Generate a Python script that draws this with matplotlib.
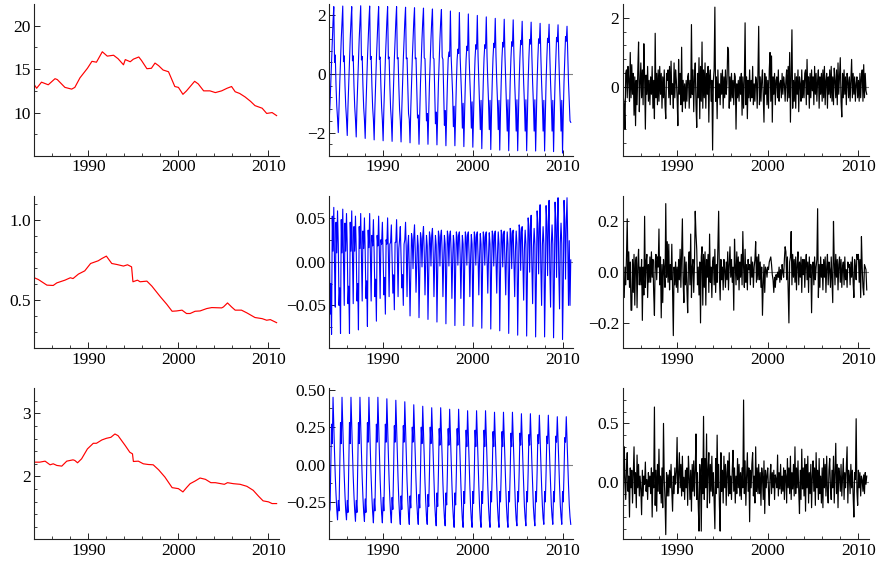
import numpy as np
import matplotlib.pyplot as plt
from matplotlib.ticker import FixedLocator, FuncFormatter

plt.rcParams['font.family'] = ['Liberation Serif', 'DejaVu Serif']

# ---- trend readings (decimal year, value) ----
trend1_t = [1984.0, 1984.26, 1984.8, 1985.55, 1986.3, 1986.55, 1987.4, 1988.15, 1988.5, 1989.07,
            1989.9, 1990.4, 1990.9, 1991.55, 1992.1, 1992.8, 1993.3, 1993.9, 1994.1, 1994.65,
            1995.0, 1995.6, 1995.9, 1996.5, 1997.0, 1997.4, 1997.8, 1998.3, 1998.9, 1999.6,
            2000.0, 2000.5, 2000.9, 2001.8, 2002.2, 2002.8, 2003.5, 2004.1, 2004.8, 2005.4,
            2005.9, 2006.3, 2006.8, 2007.4, 2008.0, 2008.5, 2009.3, 2009.8, 2010.4, 2010.9]
trend1_v = [13.2, 12.8, 13.5, 13.2, 13.9, 13.8, 12.9, 12.7, 12.9, 14.0,
            15.1, 15.9, 15.8, 17.0, 16.5, 16.6, 16.2, 15.5, 16.1, 15.85,
            16.15, 16.4, 16.0, 15.05, 15.1, 15.7, 15.4, 14.9, 14.7, 13.0,
            12.9, 12.1, 12.5, 13.6, 13.3, 12.5, 12.5, 12.3, 12.5, 12.8,
            13.0, 12.4, 12.2, 11.8, 11.3, 10.8, 10.5, 9.9, 10.0, 9.65]

trend2_t = [1984.0, 1984.45, 1985.4, 1986.1, 1986.5, 1987.4, 1988.0, 1988.3, 1988.9, 1989.6,
            1990.25, 1991.1, 1991.5, 1992.0, 1992.6, 1993.15, 1993.9, 1994.35, 1994.8, 1994.95,
            1995.45, 1995.75, 1996.5, 1997.05, 1998.0, 1998.7, 1999.3, 1999.8, 2000.4, 2000.9,
            2001.3, 2001.85, 2002.4, 2003.15, 2003.7, 2004.8, 2005.0, 2005.45, 2005.9, 2006.3,
            2007.0, 2007.6, 2008.5, 2009.3, 2009.8, 2010.2, 2010.9]
trend2_v = [0.640, 0.629, 0.594, 0.592, 0.608, 0.625, 0.640, 0.635, 0.663, 0.683,
            0.729, 0.746, 0.760, 0.775, 0.729, 0.723, 0.713, 0.721, 0.708, 0.615,
            0.625, 0.615, 0.619, 0.588, 0.521, 0.475, 0.431, 0.433, 0.438, 0.417,
            0.417, 0.431, 0.433, 0.448, 0.454, 0.452, 0.458, 0.483, 0.458, 0.438,
            0.438, 0.421, 0.392, 0.385, 0.375, 0.379, 0.360]

trend3_t = [1984.0, 1984.6, 1985.2, 1985.75, 1986.1, 1986.5, 1987.05, 1987.6, 1988.3, 1988.5,
            1988.8, 1989.25, 1989.9, 1990.55, 1990.9, 1991.5, 1992.0, 1992.5, 1992.95, 1993.3,
            1994.1, 1994.6, 1994.9, 1995.0, 1995.55, 1996.1, 1996.65, 1997.2, 1997.8, 1998.5,
            1999.3, 2000.0, 2000.5, 2000.9, 2001.3, 2001.85, 2002.4, 2003.0, 2003.6, 2004.1,
            2005.1, 2005.45, 2006.1, 2006.85, 2007.6, 2008.3, 2008.9, 2009.4, 2010.0, 2010.4, 2010.9]
trend3_v = [2.226, 2.226, 2.242, 2.184, 2.200, 2.174, 2.163, 2.242, 2.263, 2.253,
            2.216, 2.279, 2.437, 2.526, 2.526, 2.579, 2.605, 2.621, 2.674, 2.647,
            2.489, 2.384, 2.358, 2.237, 2.242, 2.200, 2.189, 2.184, 2.105, 1.989,
            1.821, 1.805, 1.753, 1.821, 1.884, 1.926, 1.974, 1.953, 1.900, 1.900,
            1.874, 1.900, 1.884, 1.874, 1.842, 1.779, 1.684, 1.611, 1.595, 1.568, 1.568]

# ---- seasonal components, one row per year 1984..2010 (Jan..Dec) ----
seas1 = [
    [-1.50, -1.00, -0.30, 0.50, 1.20, 1.80, 2.30, 0.40, 0.65, -0.40, -1.10, -1.50],
    [-2.00, -1.10, -0.30, 0.50, 1.20, 1.80, 2.32, 0.42, 0.62, -0.40, -1.10, -1.52],
    [-2.10, -1.10, -0.30, 0.50, 1.20, 1.80, 2.30, 0.45, 0.62, -0.40, -1.12, -1.55],
    [-2.15, -1.10, -0.30, 0.50, 1.20, 1.80, 2.33, 0.48, 0.60, -0.40, -1.15, -1.55],
    [-2.20, -1.15, -0.30, 0.50, 1.20, 1.80, 2.32, 0.50, 0.60, -0.40, -1.15, -1.55],
    [-2.25, -1.15, -0.30, 0.50, 1.20, 1.80, 2.30, 0.50, 0.58, -0.40, -1.15, -1.58],
    [-2.28, -1.20, -0.30, 0.50, 1.20, 1.80, 2.30, 0.52, 0.58, -0.40, -1.18, -1.58],
    [-2.30, -1.20, -0.30, 0.50, 1.20, 1.80, 2.30, 0.52, 0.56, -0.40, -1.20, -1.60],
    [-2.32, -1.20, -0.30, 0.50, 1.20, 1.80, 2.28, 0.52, 0.55, -0.45, -1.35, -1.55],
    [-2.35, -1.20, -0.30, 0.50, 1.20, 1.80, 2.26, 0.52, 0.55, -0.50, -1.50, -1.40],
    [-2.40, -1.30, -0.30, 0.50, 1.20, 1.80, 2.25, 0.55, 0.52, -0.50, -1.60, -1.35],
    [-2.40, -1.30, -0.30, 0.50, 1.20, 1.80, 2.22, 0.55, 0.52, -0.55, -1.70, -1.30],
    [-2.42, -1.30, -0.30, 0.50, 1.20, 1.80, 2.20, 0.58, 0.50, -0.55, -1.75, -1.25],
    [-2.45, -1.30, -0.30, 0.50, 0.75, 0.60, 2.15, 0.60, -0.10, -0.70, -1.80, -1.10],
    [-2.45, -1.30, -0.30, 0.50, 0.85, 0.70, 2.10, 0.60, -0.15, -0.80, -1.85, -1.00],
    [-2.48, -1.30, -0.30, 0.50, 0.95, 0.80, 2.05, 0.60, -0.20, -0.85, -1.85, -0.95],
    [-2.50, -1.30, -0.25, 0.55, 1.00, 0.85, 2.00, 0.60, -0.20, -0.90, -1.90, -0.90],
    [-2.55, -1.30, -0.25, 0.55, 1.00, 0.88, 1.95, 0.60, -0.25, -0.95, -1.90, -0.90],
    [-2.58, -1.30, -0.25, 0.55, 1.05, 0.90, 1.90, 0.60, -0.25, -0.95, -1.90, -0.90],
    [-2.60, -1.30, -0.25, 0.55, 1.08, 0.92, 1.87, 0.60, -0.25, -1.00, -1.95, -0.88],
    [-2.62, -1.35, -0.25, 0.55, 1.10, 0.95, 1.85, 0.60, -0.30, -1.00, -1.95, -0.88],
    [-2.62, -1.35, -0.25, 0.55, 1.15, 1.00, 1.80, 0.60, -0.30, -1.00, -1.95, -0.88],
    [-2.62, -1.35, -0.25, 0.55, 1.18, 1.02, 1.77, 0.60, -0.30, -1.00, -1.95, -0.88],
    [-2.63, -1.35, -0.25, 0.55, 1.20, 1.05, 1.73, 0.60, -0.30, -1.00, -1.95, -0.90],
    [-2.63, -1.35, -0.25, 0.55, 1.22, 1.08, 1.70, 0.60, -0.30, -1.00, -1.95, -0.90],
    [-2.65, -1.35, -0.25, 0.55, 1.25, 1.10, 1.68, 0.60, -0.30, -1.00, -1.95, -0.90],
    [-2.70, -1.35, -0.25, 0.55, 1.28, 1.12, 1.63, 0.60, -0.30, -1.00, -1.60, -1.65],
]

seas2 = [
    [0.036, -0.060, -0.025, -0.083, 0.052, 0.012, 0.062, -0.005, -0.052, 0.045, 0.010, 0.058],
    [0.020, -0.050, -0.030, -0.082, 0.048, 0.010, 0.060, 0.000, -0.050, 0.044, 0.012, 0.055],
    [0.018, -0.048, -0.028, -0.082, 0.045, 0.012, 0.058, 0.002, -0.048, 0.040, 0.012, 0.052],
    [0.015, -0.045, -0.025, -0.078, 0.040, 0.015, 0.055, 0.005, -0.045, 0.035, 0.015, 0.050],
    [0.012, -0.042, -0.022, -0.074, 0.036, 0.016, 0.055, 0.008, -0.045, 0.030, 0.018, 0.048],
    [0.010, -0.040, -0.020, -0.068, 0.030, 0.018, 0.052, 0.010, -0.042, 0.025, 0.020, 0.045],
    [0.008, -0.038, -0.018, -0.060, 0.025, 0.020, 0.050, 0.010, -0.040, 0.020, 0.022, 0.042],
    [0.005, -0.036, -0.015, -0.055, 0.022, 0.022, 0.048, 0.010, -0.040, 0.015, 0.025, 0.040],
    [0.005, -0.030, -0.015, -0.050, 0.020, 0.025, 0.045, 0.012, -0.040, 0.018, 0.030, -0.010],
    [-0.062, -0.012, 0.032, 0.025, -0.008, 0.028, 0.042, 0.010, -0.035, 0.000, 0.030, 0.018],
    [-0.064, -0.012, 0.033, 0.026, -0.006, 0.029, 0.040, 0.010, -0.038, 0.000, 0.030, 0.018],
    [-0.066, -0.012, 0.034, 0.027, -0.005, 0.030, 0.038, 0.010, -0.040, 0.000, 0.030, 0.019],
    [-0.069, -0.012, 0.035, 0.028, -0.005, 0.030, 0.036, 0.010, -0.040, 0.000, 0.030, 0.020],
    [-0.071, -0.012, 0.035, 0.028, -0.005, 0.030, 0.035, 0.010, -0.042, 0.000, 0.030, 0.020],
    [-0.073, -0.010, 0.034, 0.028, -0.004, 0.030, 0.034, 0.008, -0.042, 0.000, 0.030, 0.020],
    [-0.073, -0.010, 0.034, 0.028, -0.004, 0.030, 0.034, 0.008, -0.040, 0.002, 0.031, 0.020],
    [-0.074, -0.010, 0.034, 0.028, -0.004, 0.030, 0.034, 0.006, -0.038, 0.004, 0.032, 0.020],
    [-0.076, -0.010, 0.034, 0.028, -0.004, 0.030, 0.034, 0.004, -0.036, 0.006, 0.033, 0.020],
    [-0.077, -0.012, 0.035, 0.030, -0.005, 0.030, 0.035, 0.002, -0.036, 0.008, 0.034, 0.020],
    [-0.079, -0.014, 0.036, 0.031, -0.006, 0.031, 0.035, 0.000, -0.038, 0.010, 0.034, 0.020],
    [-0.082, -0.016, 0.038, 0.033, -0.008, 0.032, 0.036, -0.002, -0.040, 0.012, 0.035, 0.020],
    [-0.084, -0.018, 0.042, 0.036, -0.010, 0.034, 0.040, -0.004, -0.044, 0.014, 0.036, 0.020],
    [-0.085, -0.020, 0.050, 0.040, -0.012, 0.036, 0.053, -0.006, -0.048, 0.016, 0.038, 0.020],
    [-0.086, -0.022, 0.058, 0.044, -0.014, 0.038, 0.065, -0.008, -0.050, 0.018, 0.040, 0.020],
    [-0.086, -0.024, 0.064, 0.046, -0.016, 0.040, 0.070, -0.010, -0.052, 0.020, 0.042, 0.020],
    [-0.087, -0.026, 0.068, 0.048, -0.018, 0.042, 0.073, -0.012, -0.054, 0.022, 0.044, 0.020],
    [-0.089, -0.028, 0.070, 0.048, -0.020, 0.044, 0.073, 0.020, -0.050, 0.024, -0.050, 0.002],
]

seas3 = [
    [-0.32, -0.30, -0.02, 0.27, 0.14, 0.45, 0.26, 0.08, -0.08, -0.20, -0.30, -0.37],
    [-0.24, -0.31, -0.02, 0.28, 0.14, 0.45, 0.26, 0.08, -0.08, -0.21, -0.31, -0.37],
    [-0.24, -0.32, -0.02, 0.28, 0.14, 0.45, 0.26, 0.08, -0.08, -0.21, -0.31, -0.38],
    [-0.24, -0.32, -0.03, 0.28, 0.14, 0.45, 0.26, 0.08, -0.09, -0.22, -0.32, -0.38],
    [-0.23, -0.32, -0.03, 0.28, 0.15, 0.45, 0.26, 0.07, -0.09, -0.22, -0.32, -0.39],
    [-0.23, -0.31, -0.03, 0.27, 0.15, 0.45, 0.26, 0.07, -0.10, -0.23, -0.33, -0.39],
    [-0.22, -0.31, -0.04, 0.27, 0.15, 0.44, 0.25, 0.07, -0.10, -0.23, -0.33, -0.39],
    [-0.22, -0.30, -0.04, 0.26, 0.15, 0.43, 0.25, 0.06, -0.10, -0.24, -0.34, -0.40],
    [-0.21, -0.30, -0.04, 0.26, 0.15, 0.42, 0.24, 0.06, -0.11, -0.24, -0.34, -0.40],
    [-0.21, -0.29, -0.04, 0.25, 0.15, 0.40, 0.23, 0.05, -0.11, -0.25, -0.34, -0.40],
    [-0.20, -0.29, -0.05, 0.25, 0.14, 0.39, 0.22, 0.05, -0.12, -0.25, -0.35, -0.40],
    [-0.20, -0.28, -0.05, 0.25, 0.14, 0.38, 0.22, 0.04, -0.12, -0.26, -0.35, -0.41],
    [-0.19, -0.28, -0.05, 0.24, 0.13, 0.38, 0.21, 0.04, -0.13, -0.26, -0.36, -0.41],
    [-0.19, -0.27, -0.05, 0.24, 0.13, 0.37, 0.20, 0.03, -0.13, -0.27, -0.36, -0.42],
    [-0.19, -0.27, -0.05, 0.24, 0.13, 0.37, 0.20, 0.03, -0.13, -0.27, -0.37, -0.42],
    [-0.18, -0.26, -0.05, 0.23, 0.12, 0.36, 0.19, 0.02, -0.14, -0.28, -0.37, -0.42],
    [-0.18, -0.26, -0.05, 0.23, 0.12, 0.36, 0.19, 0.02, -0.14, -0.28, -0.37, -0.42],
    [-0.18, -0.26, -0.05, 0.23, 0.12, 0.36, 0.19, 0.02, -0.14, -0.28, -0.37, -0.42],
    [-0.18, -0.25, -0.05, 0.22, 0.12, 0.35, 0.18, 0.02, -0.14, -0.28, -0.37, -0.42],
    [-0.18, -0.25, -0.05, 0.22, 0.12, 0.35, 0.18, 0.01, -0.14, -0.28, -0.37, -0.42],
    [-0.18, -0.25, -0.05, 0.21, 0.12, 0.35, 0.18, 0.01, -0.14, -0.28, -0.37, -0.41],
    [-0.18, -0.25, -0.05, 0.21, 0.13, 0.34, 0.17, 0.01, -0.14, -0.28, -0.36, -0.41],
    [-0.18, -0.25, -0.05, 0.20, 0.13, 0.34, 0.17, 0.01, -0.14, -0.28, -0.36, -0.41],
    [-0.18, -0.25, -0.05, 0.20, 0.14, 0.33, 0.17, 0.01, -0.14, -0.27, -0.36, -0.40],
    [-0.18, -0.25, -0.05, 0.19, 0.14, 0.33, 0.16, 0.01, -0.14, -0.27, -0.35, -0.40],
    [-0.18, -0.25, -0.05, 0.19, 0.15, 0.32, 0.16, 0.01, -0.14, -0.27, -0.35, -0.40],
    [-0.18, -0.25, -0.05, 0.18, 0.15, 0.32, 0.16, 0.01, -0.14, -0.27, -0.35, -0.40],
]

# ---- irregular components, one row per year 1984..2010 ----
irr1 = [
    [-0.10, -0.30, -0.50, -1.20, 0.40, 0.50, -0.30, 0.60, 0.20, -0.40, 1.00, -0.30],
    [0.65, -0.20, 0.40, -0.80, 0.30, -1.10, 0.20, -0.50, 0.50, 1.30, -0.70, 0.10],
    [0.70, -0.30, 0.50, -0.50, 1.25, 0.30, -1.20, 0.35, -0.20, 0.60, -0.40, 0.20],
    [-0.50, 0.30, -0.20, 0.60, -0.60, 0.20, -0.90, 1.55, -0.30, 0.40, -0.50, 0.50],
    [-0.40, 0.60, -0.20, 0.40, -0.60, 0.30, -0.30, 0.50, -0.50, -0.90, 0.40, 0.20],
    [0.50, -0.30, 0.60, -0.50, 0.75, -0.20, 0.10, -0.60, 0.70, -0.30, 0.50, 0.20],
    [-0.30, -1.10, 0.80, -0.20, 0.40, -0.50, 1.15, -0.70, 0.20, -0.40, 0.10, -0.60],
    [0.20, -0.40, 0.30, 0.40, -0.60, 0.20, -0.30, 1.80, -0.20, 0.50, -0.70, 0.30],
    [0.70, -0.50, -1.15, 0.40, -0.30, 0.85, -0.90, 0.60, -0.40, 1.30, -0.60, 0.50],
    [-0.30, 0.70, -0.60, 0.40, -0.20, 0.60, -1.00, 0.30, 0.50, -0.40, 0.20, -1.80],
    [0.20, 0.50, 2.30, -0.40, 0.30, -0.90, 0.50, -0.30, 0.10, -0.50, 0.40, -0.20],
    [0.50, -0.60, 0.30, -0.30, 0.50, -0.20, 0.10, 1.15, 1.05, -0.60, 0.30, -0.40],
    [0.40, -0.30, 0.20, -0.50, 0.40, 0.30, -1.20, 0.10, -0.30, 0.20, -0.40, 0.30],
    [-0.20, 0.40, -0.80, 0.30, -0.60, 0.20, 1.85, -0.50, 0.30, -0.90, 0.20, -0.30],
    [0.50, -0.40, 0.20, -0.30, 0.60, -0.50, 0.10, -0.40, 0.30, 0.20, -0.60, 0.40],
    [1.75, -0.50, 0.30, -0.40, 0.20, 0.50, -0.30, -1.00, 0.40, -0.20, 0.30, -0.50],
    [0.20, -0.60, 0.50, 1.00, -0.40, 0.90, -1.00, 0.30, -0.20, 0.40, -0.50, 0.20],
    [0.30, -0.30, 0.50, -0.40, 0.10, 0.20, -0.30, 0.40, -0.20, 0.30, 0.10, -0.40],
    [0.20, 0.50, -0.40, 0.60, -0.30, 1.00, -1.00, 0.30, 1.65, -0.60, 0.20, -0.40],
    [0.40, -0.60, 0.30, -0.20, 0.50, -0.70, 0.30, 0.10, -0.40, 0.50, -0.30, 0.20],
    [-0.30, 0.40, 0.50, -0.50, 0.80, -0.20, 0.30, -0.60, 0.40, -0.30, 0.50, -0.10],
    [0.30, -0.50, 0.60, -0.20, 0.40, -0.40, 0.20, 0.50, -0.60, 0.30, -0.20, 0.40],
    [-0.40, 0.50, -0.30, 0.60, -0.50, 0.20, 0.40, -0.60, 0.30, -0.20, 0.50, -0.30],
    [0.60, -0.40, 0.30, -0.50, 0.55, 0.20, -0.30, 0.50, -0.50, 0.70, -0.20, 0.30],
    [0.85, -0.40, -0.85, 0.40, -0.30, 0.50, -0.20, 0.30, -0.50, 0.40, 0.20, -0.30],
    [0.30, -0.40, 0.20, 0.80, -0.30, 0.40, -0.20, 0.30, -0.40, 0.10, 0.30, -0.30],
    [0.20, -0.40, 0.40, -0.30, 0.30, 0.50, -0.40, 0.65, -0.30, 0.40, -0.10, -0.20],
]

irr2 = [
    [0.08, -0.10, -0.10, 0.02, -0.05, 0.06, 0.21, -0.03, 0.08, -0.06, 0.04, -0.15],
    [-0.15, 0.05, -0.08, 0.07, -0.13, 0.04, 0.06, -0.14, 0.03, 0.09, -0.05, 0.02],
    [-0.05, 0.05, -0.19, 0.02, -0.09, 0.22, -0.06, 0.04, 0.07, -0.10, 0.03, -0.04],
    [0.06, -0.04, 0.08, -0.02, 0.05, -0.08, -0.17, 0.04, 0.07, -0.03, 0.06, 0.02],
    [0.17, -0.05, 0.06, -0.18, 0.03, -0.12, 0.05, 0.01, -0.06, 0.27, -0.02, 0.12],
    [-0.04, 0.11, -0.07, 0.03, -0.03, 0.11, -0.06, -0.25, 0.02, -0.05, 0.04, -0.06],
    [0.02, -0.08, 0.05, -0.03, 0.09, -0.06, 0.08, 0.21, -0.04, -0.12, 0.06, -0.05],
    [0.04, -0.07, -0.16, 0.03, 0.08, -0.05, 0.15, -0.10, 0.02, 0.05, -0.08, 0.03],
    [0.24, 0.15, 0.09, -0.05, 0.02, -0.09, 0.04, -0.20, 0.06, 0.10, -0.13, 0.07],
    [-0.06, 0.08, -0.13, 0.05, -0.02, 0.07, -0.08, 0.15, -0.04, 0.02, -0.10, 0.04],
    [0.06, -0.05, 0.09, -0.08, 0.03, -0.04, 0.10, 0.24, -0.02, -0.11, 0.05, -0.03],
    [0.02, -0.07, 0.05, 0.01, -0.06, 0.04, -0.03, 0.08, -0.07, 0.03, 0.10, -0.02],
    [0.05, -0.04, 0.02, -0.15, 0.13, 0.03, -0.05, 0.08, -0.03, 0.06, -0.07, 0.04],
    [-0.02, 0.07, -0.05, 0.16, 0.02, -0.06, 0.09, -0.04, 0.03, -0.07, 0.05, 0.01],
    [0.03, -0.05, 0.06, -0.02, 0.04, -0.06, 0.02, 0.05, 0.12, -0.04, 0.06, -0.03],
    [0.07, -0.03, 0.04, -0.06, 0.02, -0.17, -0.05, 0.03, -0.08, 0.02, 0.01, -0.02],
    [0.02, 0.01, 0.04, 0.05, 0.06, 0.03, -0.01, -0.03, -0.08, -0.02, -0.06, -0.01],
    [-0.03, 0.00, -0.02, 0.02, -0.04, 0.01, -0.03, 0.03, 0.00, -0.02, 0.05, 0.10],
    [0.08, -0.03, 0.06, -0.08, -0.20, 0.04, 0.06, 0.16, -0.05, 0.07, -0.02, 0.05],
    [-0.04, 0.06, -0.07, 0.03, 0.08, -0.05, 0.04, -0.02, 0.06, -0.08, 0.05, -0.01],
    [0.05, -0.06, 0.03, 0.07, -0.03, 0.04, -0.08, 0.06, -0.02, 0.03, -0.16, 0.02],
    [0.04, -0.05, 0.06, -0.03, 0.02, 0.05, 0.25, -0.10, 0.03, -0.06, 0.06, -0.02],
    [0.03, -0.07, 0.05, -0.02, 0.06, -0.08, 0.02, 0.07, -0.05, 0.04, 0.01, -0.06],
    [0.06, -0.03, -0.12, 0.20, 0.04, -0.05, 0.07, -0.02, 0.05, -0.07, 0.03, 0.06],
    [-0.04, 0.05, -0.06, 0.02, 0.04, -0.05, 0.06, -0.03, 0.01, -0.06, 0.04, 0.02],
    [0.03, -0.05, 0.04, -0.02, 0.06, -0.04, -0.10, 0.05, 0.02, -0.03, 0.07, 0.05],
    [0.07, -0.04, 0.05, -0.10, 0.14, 0.02, -0.06, -0.09, 0.03, 0.02, 0.01, -0.07],
]

irr3 = [
    [0.18, -0.20, 0.30, 0.05, -0.15, 0.10, 0.25, -0.08, 0.05, -0.30, 0.12, -0.05],
    [0.10, -0.18, 0.05, 0.30, -0.10, 0.08, -0.22, 0.23, -0.05, 0.15, -0.12, 0.05],
    [-0.06, -0.28, 0.10, -0.12, 0.05, -0.02, 0.17, -0.08, 0.02, -0.15, 0.08, -0.04],
    [0.05, -0.10, 0.12, -0.30, 0.08, -0.05, 0.64, -0.20, 0.10, -0.25, 0.15, -0.08],
    [0.28, -0.10, 0.05, -0.18, 0.12, -0.22, 0.50, 0.02, -0.15, -0.45, 0.08, -0.12],
    [0.06, -0.12, 0.10, -0.05, 0.15, -0.08, -0.25, 0.05, -0.10, 0.12, -0.02, 0.08],
    [0.38, -0.10, 0.05, 0.25, -0.05, 0.15, -0.12, 0.22, -0.08, 0.04, -0.15, 0.10],
    [-0.05, 0.12, -0.20, 0.22, 0.05, -0.15, 0.10, -0.25, 0.15, -0.08, 0.18, -0.12],
    [0.10, 0.41, -0.15, 0.08, -0.20, -0.42, 0.15, 0.05, -0.42, 0.20, -0.10, 0.56],
    [-0.15, 0.20, -0.05, 0.41, -0.22, 0.10, 0.25, -0.18, 0.15, -0.08, 0.22, -0.12],
    [0.08, -0.15, -0.40, 0.20, -0.10, 0.40, -0.05, 0.15, -0.20, -0.42, 0.25, -0.08],
    [0.10, -0.18, 0.22, -0.05, 0.15, -0.20, 0.08, 0.18, -0.12, 0.25, -0.10, 0.05],
    [-0.15, 0.10, 0.27, -0.08, 0.12, -0.18, 0.05, -0.10, 0.20, -0.05, 0.15, -0.12],
    [0.08, -0.15, 0.12, -0.05, 0.70, -0.10, 0.18, -0.20, 0.05, 0.25, -0.08, 0.12],
    [-0.34, 0.10, -0.05, 0.15, 0.25, -0.12, 0.05, -0.18, 0.30, -0.08, 0.12, -0.10],
    [0.15, -0.10, 0.08, -0.20, 0.12, 0.05, -0.15, 0.18, -0.27, 0.10, -0.05, 0.06],
    [0.12, -0.08, -0.20, 0.05, 0.15, -0.10, 0.08, -0.05, 0.10, -0.15, 0.06, 0.02],
    [-0.05, 0.23, -0.12, 0.08, -0.06, 0.15, -0.10, 0.05, -0.08, 0.12, -0.15, 0.10],
    [0.05, -0.18, 0.20, -0.05, 0.12, -0.10, 0.22, -0.15, 0.08, -0.06, 0.15, -0.12],
    [0.30, -0.10, 0.12, -0.05, 0.18, -0.08, -0.27, 0.10, -0.15, 0.28, -0.06, 0.12],
    [-0.12, 0.20, -0.25, 0.15, -0.05, 0.22, -0.18, 0.08, -0.10, 0.15, -0.22, 0.05],
    [0.18, -0.08, 0.12, -0.20, 0.25, -0.05, 0.10, -0.15, 0.20, -0.10, 0.05, -0.18],
    [0.12, -0.22, 0.20, -0.05, 0.15, -0.12, 0.22, -0.08, -0.18, 0.10, 0.20, -0.05],
    [-0.15, 0.10, -0.05, 0.22, -0.18, 0.08, 0.33, -0.10, 0.15, -0.22, 0.12, 0.05],
    [-0.08, 0.15, -0.12, 0.05, 0.20, -0.15, 0.08, -0.05, 0.12, 0.30, -0.18, 0.10],
    [0.05, -0.10, 0.15, -0.05, 0.10, -0.12, -0.30, 0.08, 0.02, 0.54, -0.08, -0.20],
    [0.10, -0.05, 0.08, -0.12, 0.05, 0.02, -0.08, 0.06, -0.10, 0.08, -0.02, 0.05],
]

year_ticks = [1990, 2000, 2010]
year_minor = [1986, 1988, 1992, 1994, 1996, 1998, 2002, 2004, 2006, 2008]


def monthly(rows):
    y = np.array(rows, dtype=float).ravel()
    t = 1984 + np.arange(len(y)) / 12.0
    return t, y


def fmt(decimals):
    def f(v, pos):
        s = f"{v:.{decimals}f}"
        if float(s) == 0:
            s = s.lstrip('-')
        return s.replace('-', '\u2212')
    return FuncFormatter(f)


W, H = 877, 565
fig = plt.figure(figsize=(W / 100, H / 100), dpi=100)

col_x = [(34.3, 245.0), (329.3, 244.0), (622.7, 246.6)]
row_y = [(4.0, 156.0), (196.0, 348.3), (388.3, 539.3)]

t1, s1 = monthly(seas1)
t2, s2 = monthly(seas2)
t3, s3 = monthly(seas3)
_, i1 = monthly(irr1)
_, i2 = monthly(irr2)
_, i3 = monthly(irr3)

# (x, y, colour, lw, ylim, major, minor, decimals, zero line)
panels = [
    [(trend1_t, trend1_v, 'red', 0.85, (5.0, 22.5), [10, 15, 20], [7.5, 12.5, 17.5], 0, False),
     (t1, s1, 'blue', 0.8, (-2.8, 2.39), [-2, 0, 2],
      [-2.4, -1.6, -1.2, -0.8, -0.4, 0.4, 0.8, 1.2, 1.6], 0, True),
     (t1, i1, 'black', 0.85, (-1.97, 2.39), [0, 2],
      [-1.6, -1.2, -0.8, -0.4, 0.4, 0.8, 1.2, 1.6], 0, True)],
    [(trend2_t, trend2_v, 'red', 0.85, (0.2, 1.15), [0.5, 1.0],
      [0.3, 0.4, 0.6, 0.7, 0.8, 0.9, 1.1], 1, False),
     (t2, s2, 'blue', 0.8, (-0.099, 0.075), [-0.05, 0.0, 0.05], [-0.075, -0.025, 0.025], 2, True),
     (t2, i2, 'black', 0.85, (-0.3, 0.3), [-0.2, 0.0, 0.2], [], 1, True)],
    [(trend3_t, trend3_v, 'red', 0.85, (1.0, 3.4), [2, 3],
      [1.2, 1.4, 1.6, 1.8, 2.2, 2.4, 2.6, 2.8, 3.2], 0, False),
     (t3, s3, 'blue', 0.8, (-0.5, 0.51), [-0.25, 0.0, 0.25, 0.5],
      [-0.375, -0.125, 0.125, 0.375], 2, True),
     (t3, i3, 'black', 0.85, (-0.49, 0.8), [0.0, 0.5],
      [-0.4, -0.3, -0.2, -0.1, 0.1, 0.2, 0.3, 0.4, 0.6, 0.7], 1, True)],
]

for r, row in enumerate(panels):
    top, bottom = row_y[r]
    for c, (x, y, colour, lw, ylim, major, minor, dec, zero) in enumerate(row):
        left, width = col_x[c]
        ax = fig.add_axes([left / W, 1 - bottom / H, width / W, (bottom - top) / H])
        if zero:
            ax.axhline(0, color='#808080', lw=0.8, zorder=1)
        ax.plot(x, y, color=colour, lw=lw, zorder=2)
        ax.set_xlim(1984, 2011.2)
        ax.set_ylim(*ylim)
        for side in ['top', 'right']:
            ax.spines[side].set_visible(False)
        for side in ['left', 'bottom']:
            ax.spines[side].set_linewidth(0.8)
            ax.spines[side].set_color('#222222')
        ax.xaxis.set_major_locator(FixedLocator(year_ticks))
        ax.xaxis.set_minor_locator(FixedLocator(year_minor))
        ax.yaxis.set_major_locator(FixedLocator(major))
        ax.yaxis.set_minor_locator(FixedLocator(minor))
        ax.yaxis.set_major_formatter(fmt(dec))
        ax.tick_params(which='major', direction='in', length=4.5, width=0.7,
                       labelsize=12.5, pad=2.5, color='#222222')
        ax.tick_params(which='minor', direction='in', length=2.4, width=0.6, color='#222222')

fig.savefig('out.png', dpi=100)
